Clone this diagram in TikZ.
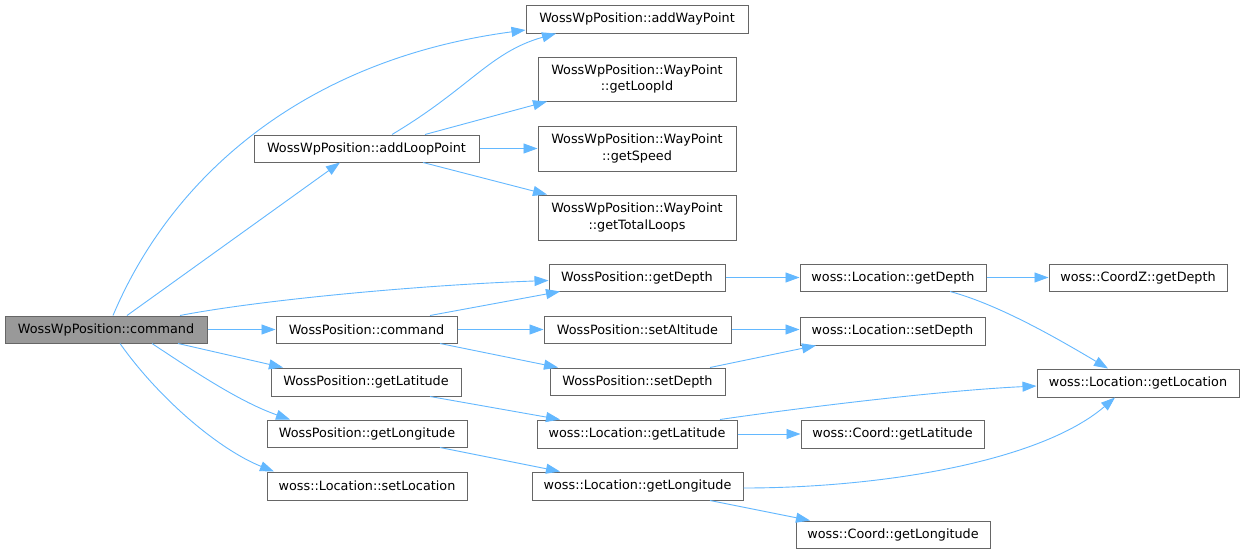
\documentclass[tikz,border=0pt]{standalone}
\usepackage{fontspec}
\setmainfont{DejaVu Sans}
\usetikzlibrary{arrows.meta}
\definecolor{edgeblue}{HTML}{63B8FF}
\definecolor{boxborder}{HTML}{666666}
\definecolor{rootfill}{HTML}{999999}
\begin{document}
\begin{tikzpicture}[x=1pt,y=-1pt,
  box/.style={draw=boxborder, line width=1pt, rectangle, inner sep=0pt, align=center,
    font=\fontsize{12.8}{16.5}\selectfont, text=black},
  rootbox/.style={box, fill=rootfill},
  call/.style={draw=edgeblue, line width=0.9pt, -{Triangle[length=14pt,width=10pt]}}]
\useasboundingbox (0,0) rectangle (1244,554);
\fill[white] (0,0) rectangle (1244,554);
% nodes
\node[rootbox, minimum width=202pt, minimum height=27pt] (root) at (106,329.5) {WossWpPosition::command};
\node[box, minimum width=222pt, minimum height=28pt] (addWayPoint) at (637,19) {WossWpPosition::addWayPoint};
\node[box, minimum width=198pt, minimum height=44pt] (getLoopId) at (637,79) {WossWpPosition::WayPoint\\::getLoopId};
\node[box, minimum width=198pt, minimum height=45pt] (getSpeed) at (637,148.5) {WossWpPosition::WayPoint\\::getSpeed};
\node[box, minimum width=198pt, minimum height=45pt] (getTotalLoops) at (637,217.5) {WossWpPosition::WayPoint\\::getTotalLoops};
\node[box, minimum width=225pt, minimum height=27pt] (addLoopPoint) at (366.5,148.5) {WossWpPosition::addLoopPoint};
\node[box, minimum width=176pt, minimum height=27pt] (wpGetDepth) at (637,277.5) {WossPosition::getDepth};
\node[box, minimum width=186pt, minimum height=27pt] (locGetDepth) at (893,277.5) {woss::Location::getDepth};
\node[box, minimum width=178pt, minimum height=27pt] (coordzGetDepth) at (1138,277.5) {woss::CoordZ::getDepth};
\node[box, minimum width=181pt, minimum height=27pt] (wpCommand) at (366.5,329.5) {WossPosition::command};
\node[box, minimum width=187pt, minimum height=27pt] (setAltitude) at (637.5,329.5) {WossPosition::setAltitude};
\node[box, minimum width=185pt, minimum height=28pt] (locSetDepth) at (892.5,331) {woss::Location::setDepth};
\node[box, minimum width=175pt, minimum height=27pt] (wpSetDepth) at (637.5,381.5) {WossPosition::setDepth};
\node[box, minimum width=202pt, minimum height=28pt] (getLocation) at (1138,383) {woss::Location::getLocation};
\node[box, minimum width=190pt, minimum height=28pt] (wpGetLatitude) at (366,382) {WossPosition::getLatitude};
\node[box, minimum width=200pt, minimum height=28pt] (locGetLatitude) at (637,434) {woss::Location::getLatitude};
\node[box, minimum width=183pt, minimum height=28pt] (coordGetLatitude) at (892.5,434) {woss::Coord::getLatitude};
\node[box, minimum width=200pt, minimum height=27pt] (wpGetLongitude) at (367,433.5) {WossPosition::getLongitude};
\node[box, minimum width=211pt, minimum height=28pt] (locGetLongitude) at (637.5,486) {woss::Location::getLongitude};
\node[box, minimum width=200pt, minimum height=28pt] (setLocation) at (367,486) {woss::Location::setLocation};
\node[box, minimum width=194pt, minimum height=27pt] (coordGetLongitude) at (893,534.5) {woss::Coord::getLongitude};
% edges
\draw[call] ([xshift=7pt]root.north) .. controls (170,180) and (300,60) .. ([yshift=-11pt]addWayPoint.west);
\draw[call] ([xshift=21pt]root.north) -- ([xshift=-26.5pt]addLoopPoint.south);
\draw[call] ([xshift=74pt]root.north) .. controls (260,300) and (420,285) .. ([yshift=-3pt]wpGetDepth.west);
\draw[call] (root.east) -- (wpCommand.west);
\draw[call] ([xshift=72pt]root.south) -- ([xshift=-83pt]wpGetLatitude.north);
\draw[call] ([xshift=46pt]root.south) .. controls (195,372) and (240,402) .. ([xshift=-77pt]wpGetLongitude.north);
\draw[call] ([xshift=14pt]root.south) .. controls (160,400) and (220,450) .. ([xshift=-93pt]setLocation.north);
\draw[call] ([xshift=25.5pt]addLoopPoint.north) .. controls (470,88) and (490,52) .. ([xshift=-81pt]addWayPoint.south);
\draw[call] ([xshift=58.5pt]addLoopPoint.north) -- ([xshift=-90pt]getLoopId.south);
\draw[call] (addLoopPoint.east) -- (getSpeed.west);
\draw[call] ([xshift=56.5pt]addLoopPoint.south) -- ([xshift=-90pt]getTotalLoops.north);
\draw[call] ([xshift=63.5pt]wpCommand.north) -- ([xshift=-77pt]wpGetDepth.south);
\draw[call] (wpCommand.east) -- (setAltitude.west);
\draw[call] ([xshift=73.5pt]wpCommand.south) -- ([xshift=-79.5pt]wpSetDepth.north);
\draw[call] (wpGetDepth.east) -- (locGetDepth.west);
\draw[call] (setAltitude.east) -- (setAltitude.east -| locSetDepth.west);
\draw[call] ([xshift=72.5pt]wpSetDepth.north) -- ([xshift=-76.5pt]locSetDepth.south);
\draw[call] (locGetDepth.east) -- (coordzGetDepth.west);
\draw[call] ([xshift=57pt]locGetDepth.south) .. controls (1000,305) and (1060,340) .. ([xshift=-30pt]getLocation.north);
\draw[call] ([xshift=64pt]wpGetLatitude.south) -- ([xshift=-77pt]locGetLatitude.north);
\draw[call] ([xshift=83pt]locGetLatitude.north) .. controls (820,405) and (950,390) .. ([yshift=-3pt]getLocation.west);
\draw[call] (locGetLatitude.east) -- (coordGetLatitude.west);
\draw[call] ([xshift=73pt]wpGetLongitude.south) -- ([xshift=-77.5pt]locGetLongitude.north);
\draw[call] ([yshift=-2pt]locGetLongitude.east) .. controls (880,488) and (1040,462) .. ([xshift=-23pt]getLocation.south);
\draw[call] ([xshift=72.5pt]locGetLongitude.south) -- ([xshift=-83pt]coordGetLongitude.north);
\end{tikzpicture}
\end{document}
